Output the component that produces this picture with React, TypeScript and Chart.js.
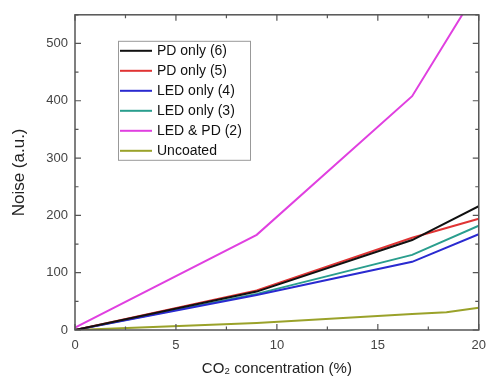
import React, { useEffect, useRef } from "react";
import { Chart, registerables } from "chart.js";

Chart.register(...registerables);

const concX = [0, 9, 16.7, 20];
const pdOnly6 = [0, 67, 157, 216];
const pdOnly5 = [0, 69, 161, 194];
const ledOnly4 = [0, 61, 119, 167];
const ledOnly3 = [0, 63, 131, 182];
const ledPd2 = [4, 166, 408, 597];
const uncoatedX = [0, 9, 16.7, 18.4, 20];
const uncoated = [0, 12, 28, 31, 39];

const seriesNames = ["PD only (6)", "PD only (5)", "LED only (4)", "LED only (3)", "LED & PD (2)", "Uncoated"];
const seriesColors = ["#111111", "#e03434", "#2a2ad0", "#2a9e8e", "#e040e0", "#9aa22a"];

const xTicks = [0, 5, 10, 15, 20];
const xMinor = [2.5, 7.5, 12.5, 17.5];
const yTicks = [0, 100, 200, 300, 400, 500];
const yMinor = [50, 150, 250, 350, 450, 550];

const FONT = "'Liberation Sans', Arial, sans-serif";

const toPts = (xs: number[], ys: number[]) => xs.map((x, i) => ({ x, y: ys[i] }));

const framePlugin = {
  id: "frameTicks",
  afterDraw(chart: any) {
    const { ctx, chartArea: a, scales } = chart;
    const xs = scales.x, ys = scales.y;
    ctx.save();
    ctx.strokeStyle = "#555";
    ctx.lineWidth = 1.5;
    ctx.strokeRect(a.left, a.top, a.right - a.left, a.bottom - a.top);
    ctx.lineWidth = 1.2;
    const drawX = (v: number, len: number) => {
      const px = xs.getPixelForValue(v);
      ctx.beginPath();
      ctx.moveTo(px, a.bottom); ctx.lineTo(px, a.bottom - len);
      ctx.moveTo(px, a.top); ctx.lineTo(px, a.top + len);
      ctx.stroke();
    };
    const drawY = (v: number, len: number) => {
      const py = ys.getPixelForValue(v);
      if (py < a.top - 0.5) return;
      ctx.beginPath();
      ctx.moveTo(a.left, py); ctx.lineTo(a.left + len, py);
      ctx.moveTo(a.right, py); ctx.lineTo(a.right - len, py);
      ctx.stroke();
    };
    xTicks.forEach((v) => drawX(v, 6));
    xMinor.forEach((v) => drawX(v, 3.5));
    yTicks.forEach((v) => drawY(v, 6));
    yMinor.forEach((v) => drawY(v, 3.5));

    // legend
    const bx = a.left + 43, by = a.top + 26, bw = 132, bh = 119;
    ctx.fillStyle = "#fff";
    ctx.fillRect(bx, by, bw, bh);
    ctx.strokeStyle = "#999";
    ctx.lineWidth = 1;
    ctx.strokeRect(bx + 0.5, by + 0.5, bw, bh);
    ctx.font = `14px ${FONT}`;
    ctx.textBaseline = "middle";
    ctx.textAlign = "left";
    chart.data.datasets.forEach((ds: any, i: number) => {
      const yy = by + 10 + i * 20;
      ctx.strokeStyle = ds.borderColor;
      ctx.lineWidth = 2;
      ctx.beginPath();
      ctx.moveTo(bx + 2, yy); ctx.lineTo(bx + 34, yy);
      ctx.stroke();
      ctx.fillStyle = "#111";
      ctx.fillText(ds.label, bx + 39, yy + 0.5);
    });
    ctx.restore();
  },
};

export default function App() {
  const ref = useRef<HTMLCanvasElement>(null);
  useEffect(() => {
    document.body.style.margin = "0";
    const ys = [pdOnly6, pdOnly5, ledOnly4, ledOnly3, ledPd2, uncoated];
    const chart = new Chart(ref.current!, {
      type: "line",
      data: {
        datasets: ys.map((d, i) => ({
          label: seriesNames[i],
          data: toPts(i === 5 ? uncoatedX : concX, d),
          borderColor: seriesColors[i],
          backgroundColor: seriesColors[i],
          borderWidth: 2,
          pointRadius: 0,
          tension: 0,
        })),
      },
      options: {
        responsive: false,
        animation: false,
        layout: { padding: { top: 7, right: 14, left: 0, bottom: 0 } },
        plugins: { legend: { display: false }, tooltip: { enabled: false } },
        scales: {
          x: {
            type: "linear",
            min: 0,
            max: 20,
            afterBuildTicks: (s: any) => { s.ticks = xTicks.map((v) => ({ value: v })); },
            afterFit: (s: any) => { s.height = 57; },
            grid: { display: false, drawTicks: false },
            border: { display: false },
            ticks: { color: "#444", font: { family: FONT, size: 13 }, padding: 8, maxRotation: 0 },
            title: { display: true, text: "CO₂ concentration (%)", color: "#222", font: { family: FONT, size: 15 }, padding: { top: 4, bottom: 9 } },
          },
          y: {
            type: "linear",
            min: 0,
            max: 550,
            afterBuildTicks: (s: any) => { s.ticks = yTicks.map((v) => ({ value: v })); },
            afterFit: (s: any) => { s.width = 75; },
            grid: { display: false, drawTicks: false },
            border: { display: false },
            ticks: { color: "#444", font: { family: FONT, size: 13 }, padding: 7 },
            title: { display: true, text: "Noise (a.u.)", color: "#222", font: { family: FONT, size: 17 }, padding: { top: 9 } },
          },
        },
      },
      plugins: [framePlugin],
    });
    return () => chart.destroy();
  }, []);
  return (
    <div style={{ position: "fixed", left: 0, top: 0, width: 494, height: 387, background: "#fff" }}>
      <canvas ref={ref} width={494} height={387} />
    </div>
  );
}
